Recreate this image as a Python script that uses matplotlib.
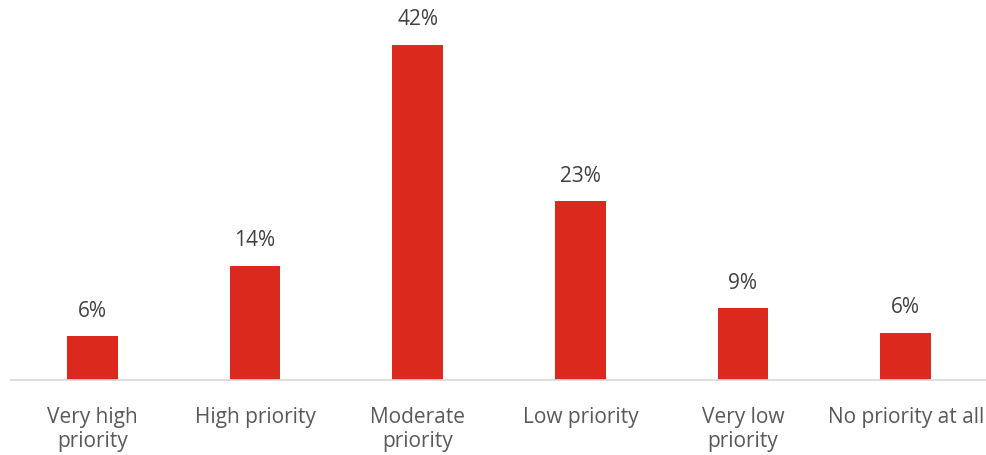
import matplotlib.pyplot as plt

# priority ratings - share of respondents
categories = ['Very high\npriority', 'High priority', 'Moderate\npriority',
              'Low priority', 'Very low\npriority', 'No priority at all']
values = [5.5, 14.3, 42.0, 22.4, 9.0, 5.9]
labels = ['6%', '14%', '42%', '23%', '9%', '6%']

plt.rcParams['font.family'] = ['Open Sans', 'DejaVu Sans']

fig = plt.figure(figsize=(9.87, 4.56), dpi=100)
ax = fig.add_axes([11/987, 75.3/456, 976/987, 359/456])

x = range(len(categories))
bars = ax.bar(x, values, width=0.31, color='#DC291E')

for b, lab in zip(bars, labels):
    ax.text(b.get_x() + b.get_width()/2, b.get_height() + 1.9, lab,
            ha='center', va='bottom', fontsize=15, color='#404040')

ax.set_xlim(-0.5, len(categories) - 0.5)
ax.set_ylim(0, 45)
ax.set_xticks(list(x))
ax.set_xticklabels(categories, fontsize=15, color='#595959', linespacing=1.2)
ax.tick_params(axis='x', length=0, pad=19)
ax.set_yticks([])

for s in ['top', 'right', 'left']:
    ax.spines[s].set_visible(False)
ax.spines['bottom'].set_color('#D9D9D9')
ax.spines['bottom'].set_linewidth(1.2)

plt.savefig('out.png', dpi=100)
